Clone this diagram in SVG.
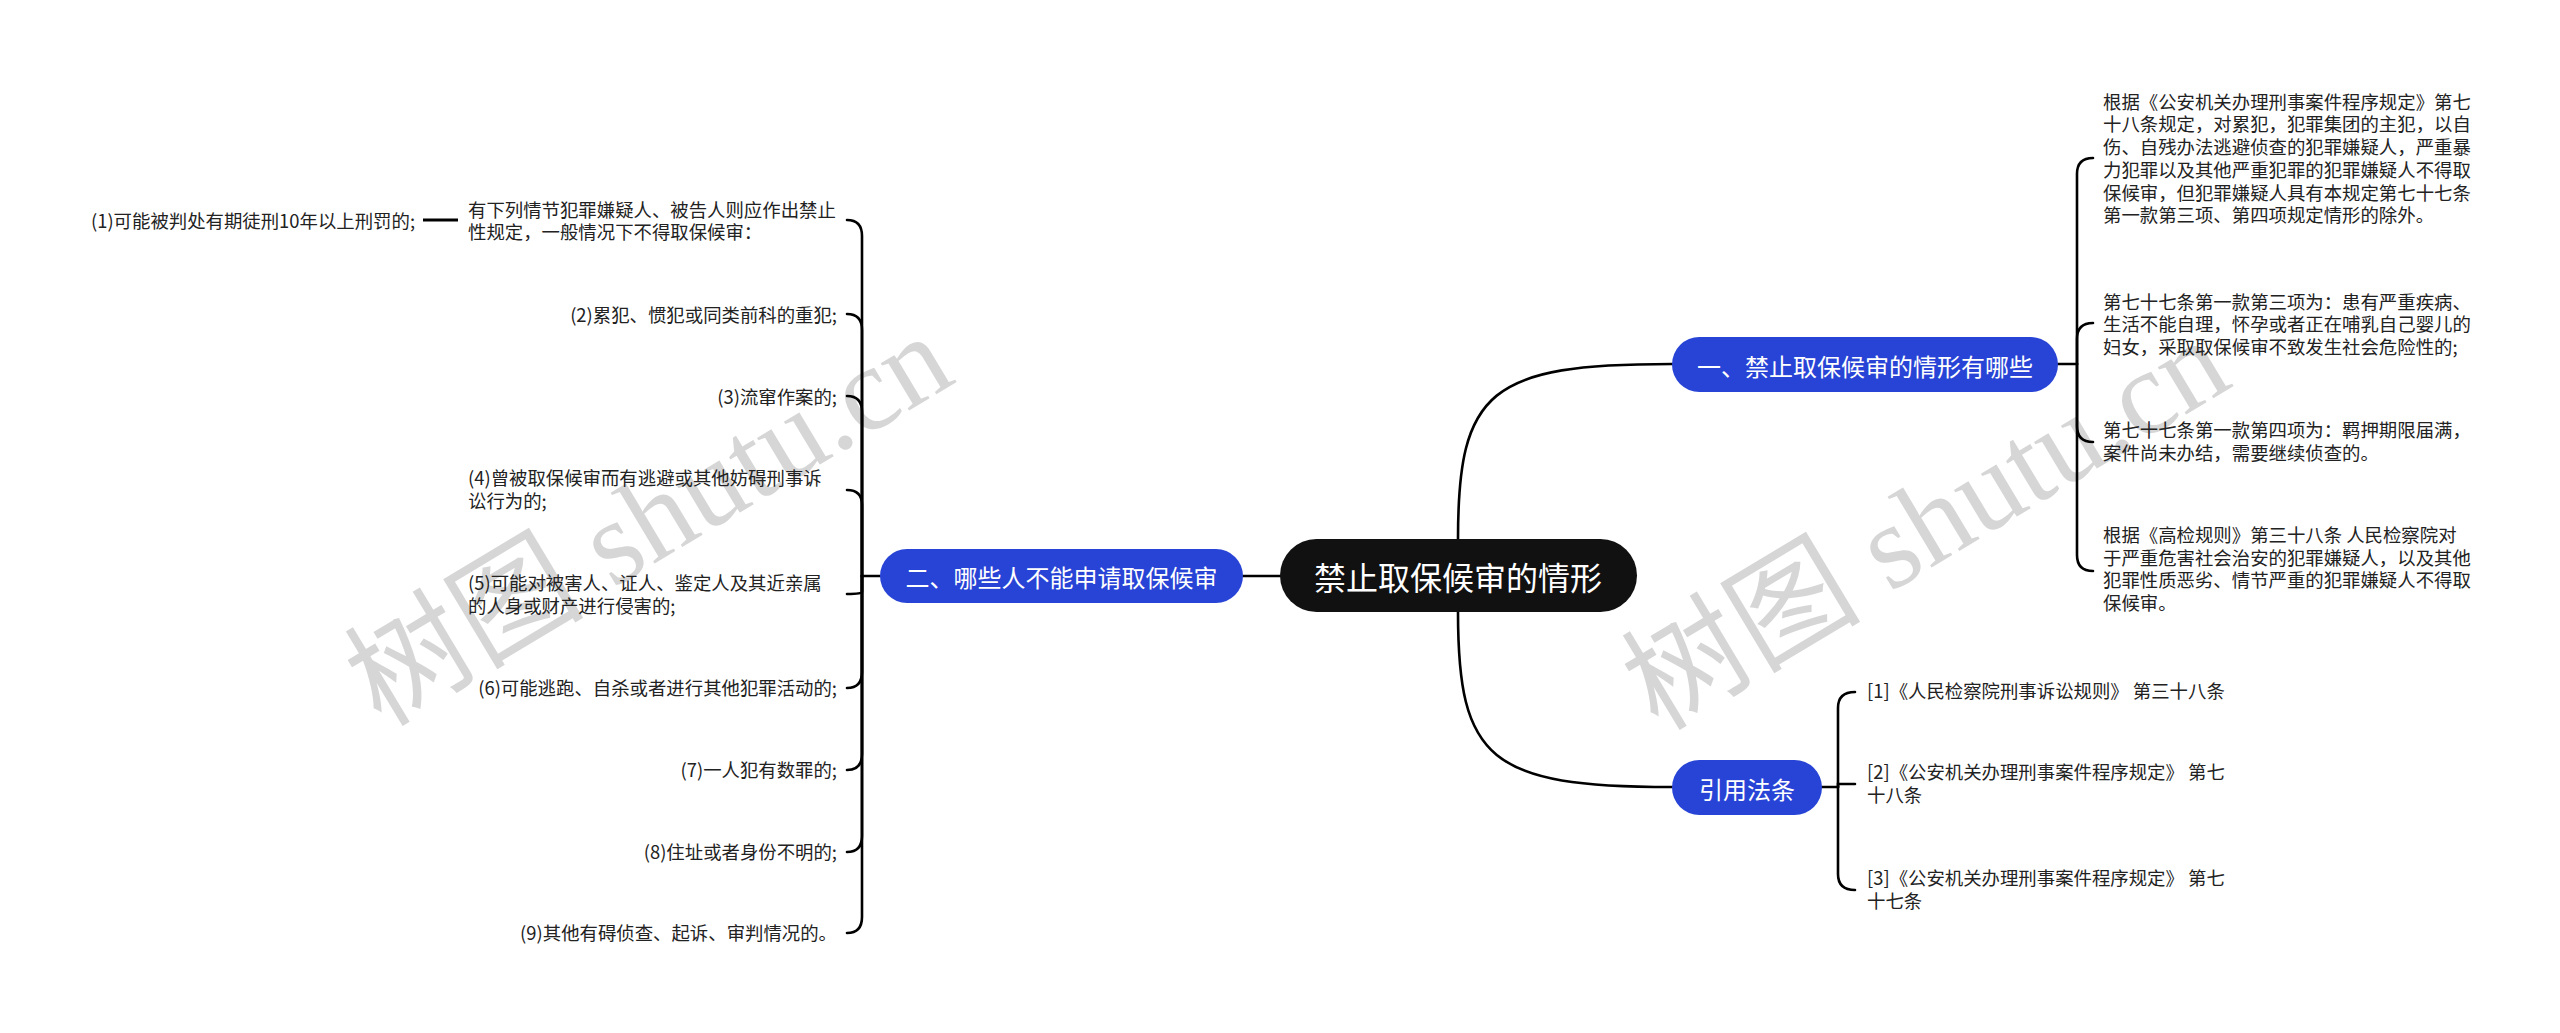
<svg xmlns="http://www.w3.org/2000/svg" width="2560" height="1033" viewBox="0 0 2560 1033">
<style>
.bg{fill:#ffffff}
.wm{font-family:"Liberation Serif","Noto Sans CJK SC",serif;font-size:120px;fill:#d6d6d6}
.root rect{fill:#111111}
.root text{font-family:"Noto Sans CJK SC","Noto Sans CJK JP",sans-serif;font-size:32px;fill:#ffffff;text-anchor:middle;dominant-baseline:central}
.main rect{fill:#2844d6}
.main text{font-family:"Noto Sans CJK SC","Noto Sans CJK JP",sans-serif;font-size:24px;fill:#ffffff;text-anchor:middle;dominant-baseline:central}
.leaf text{font-family:"Noto Sans CJK SC","Noto Sans CJK JP",sans-serif;font-size:18.4px;fill:#222222}
.r{text-anchor:end}
.conn path{fill:none;stroke:#000000;stroke-width:2.6;stroke-linecap:round}
</style>
<rect class="bg" x="0" y="0" width="2560" height="1033"/>
<g id="watermarks">
<text class="wm" x="650" y="560" text-anchor="middle" transform="rotate(-31 650 522)">树图 shutu.cn</text>
<text class="wm" x="1927" y="564" text-anchor="middle" transform="rotate(-31 1927 526)">树图 shutu.cn</text>
</g>
<g id="connectors" class="conn">
<path d="M1458 539 C1458 390 1490 364 1672 364"/>
<path d="M1458 612 C1458 760 1490 787 1672 787"/>
<path d="M1243 576 H1280"/>
<path d="M2058 364 H2077"/>
<path d="M2077 364 V174 Q2077 158 2093 158"/>
<path d="M2077 364 V339 Q2077 323 2093 323"/>
<path d="M2077 364 V426 Q2077 442 2093 442"/>
<path d="M2077 364 V555 Q2077 571 2093 571"/>
<path d="M1822 787 H1838"/>
<path d="M1838 787 V708 Q1838 692 1855 692"/>
<path d="M1838 787 V784 Q1838 784 1855 784"/>
<path d="M1838 787 V874 Q1838 890 1855 890"/>
<path d="M880 576 H862"/>
<path d="M862 576 V236 Q862 220 847 220"/>
<path d="M862 576 V330 Q862 314 847 314"/>
<path d="M862 576 V412 Q862 396 847 396"/>
<path d="M862 576 V505 Q862 490 847 490"/>
<path d="M862 576 V592 Q862 594 847 594"/>
<path d="M862 576 V672 Q862 688 847 688"/>
<path d="M862 576 V754 Q862 770 847 770"/>
<path d="M862 576 V836 Q862 852 847 852"/>
<path d="M862 576 V917 Q862 933 847 933"/>
<path d="M423 220 H458" style="stroke-width:3.2;stroke-linecap:butt"/>
</g>
<g id="root" class="root">
<rect x="1280" y="539" width="357" height="73" rx="36.5"/>
<text x="1458" y="576">禁止取保候审的情形</text>
</g>
<g id="n1" class="main">
<rect x="1672" y="337" width="386" height="55" rx="27.5"/>
<text x="1865" y="365">一、禁止取保候审的情形有哪些</text>
</g>
<g id="n2" class="main">
<rect x="880" y="549" width="363" height="54" rx="27"/>
<text x="1061.5" y="576">二、哪些人不能申请取保候审</text>
</g>
<g id="n3" class="main">
<rect x="1672" y="760" width="150" height="55" rx="27.5"/>
<text x="1747" y="788">引用法条</text>
</g>
<g id="n1-1" class="leaf"><text x="2103" y="109"><tspan x="2103" y="108.7">根据《公安机关办理刑事案件程序规定》第七</tspan><tspan x="2103" y="131.4">十八条规定，对累犯，犯罪集团的主犯，以自</tspan><tspan x="2103" y="154.1">伤、自残办法逃避侦查的犯罪嫌疑人，严重暴</tspan><tspan x="2103" y="176.8">力犯罪以及其他严重犯罪的犯罪嫌疑人不得取</tspan><tspan x="2103" y="199.5">保候审，但犯罪嫌疑人具有本规定第七十七条</tspan><tspan x="2103" y="222.2">第一款第三项、第四项规定情形的除外。</tspan></text></g>
<g id="n1-2" class="leaf"><text><tspan x="2103" y="308.7">第七十七条第一款第三项为：患有严重疾病、</tspan><tspan x="2103" y="331.4">生活不能自理，怀孕或者正在哺乳自己婴儿的</tspan><tspan x="2103" y="354.1">妇女，采取取保候审不致发生社会危险性的;</tspan></text></g>
<g id="n1-3" class="leaf"><text><tspan x="2103" y="437">第七十七条第一款第四项为：羁押期限届满，</tspan><tspan x="2103" y="459.7">案件尚未办结，需要继续侦查的。</tspan></text></g>
<g id="n1-4" class="leaf"><text><tspan x="2103" y="542">根据《高检规则》第三十八条 人民检察院对</tspan><tspan x="2103" y="564.7">于严重危害社会治安的犯罪嫌疑人，以及其他</tspan><tspan x="2103" y="587.4">犯罪性质恶劣、情节严重的犯罪嫌疑人不得取</tspan><tspan x="2103" y="610.1">保候审。</tspan></text></g>
<g id="n3-1" class="leaf"><text x="1867" y="698">[1]《人民检察院刑事诉讼规则》 第三十八条</text></g>
<g id="n3-2" class="leaf"><text><tspan x="1867" y="779">[2]《公安机关办理刑事案件程序规定》 第七</tspan><tspan x="1867" y="801.7">十八条</tspan></text></g>
<g id="n3-3" class="leaf"><text><tspan x="1867" y="885">[3]《公安机关办理刑事案件程序规定》 第七</tspan><tspan x="1867" y="907.7">十七条</tspan></text></g>
<g id="n2-1" class="leaf"><text><tspan x="468" y="216.5">有下列情节犯罪嫌疑人、被告人则应作出禁止</tspan><tspan x="468" y="239.2">性规定，一般情况下不得取保候审：</tspan></text></g>
<g id="n2-1-1" class="leaf"><text class="r" x="415" y="228">(1)可能被判处有期徒刑10年以上刑罚的;</text></g>
<g id="n2-2" class="leaf"><text class="r" x="837" y="322">(2)累犯、惯犯或同类前科的重犯;</text></g>
<g id="n2-3" class="leaf"><text class="r" x="837" y="403.7">(3)流窜作案的;</text></g>
<g id="n2-4" class="leaf"><text><tspan x="468" y="485.3">(4)曾被取保候审而有逃避或其他妨碍刑事诉</tspan><tspan x="468" y="508">讼行为的;</tspan></text></g>
<g id="n2-5" class="leaf"><text><tspan x="468" y="590.3">(5)可能对被害人、证人、鉴定人及其近亲属</tspan><tspan x="468" y="613">的人身或财产进行侵害的;</tspan></text></g>
<g id="n2-6" class="leaf"><text class="r" x="837" y="695.3">(6)可能逃跑、自杀或者进行其他犯罪活动的;</text></g>
<g id="n2-7" class="leaf"><text class="r" x="837" y="777">(7)一人犯有数罪的;</text></g>
<g id="n2-8" class="leaf"><text class="r" x="837" y="858.7">(8)住址或者身份不明的;</text></g>
<g id="n2-9" class="leaf"><text class="r" x="837" y="940.3">(9)其他有碍侦查、起诉、审判情况的。</text></g>
</svg>
